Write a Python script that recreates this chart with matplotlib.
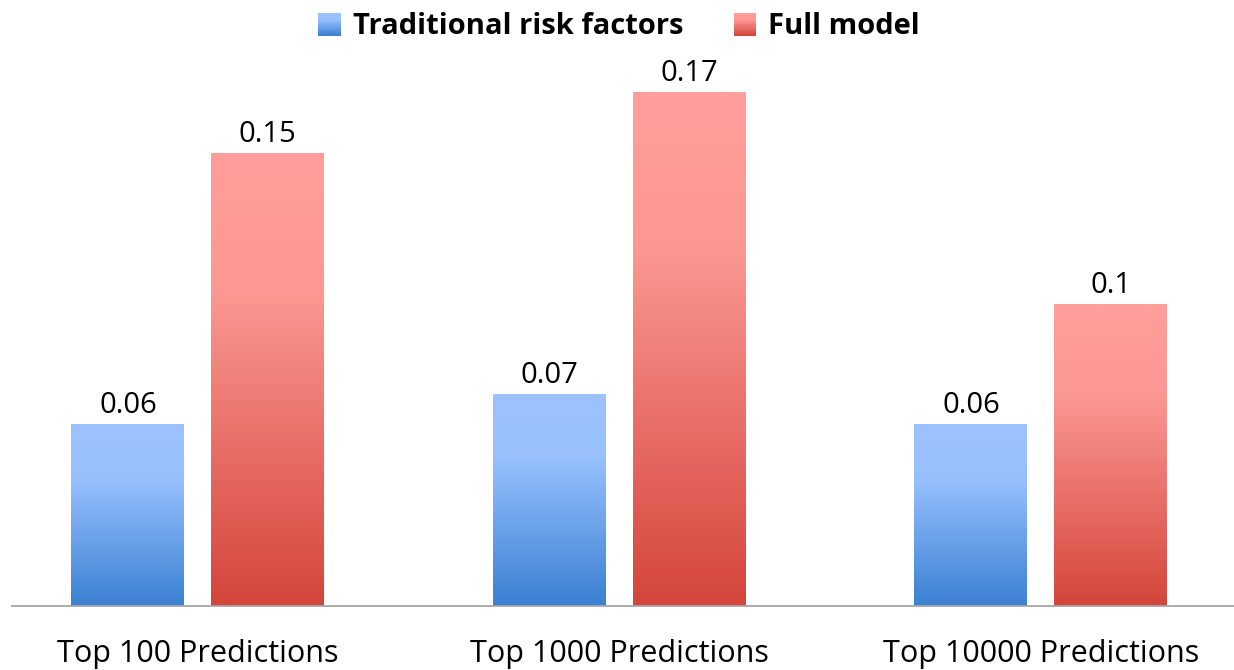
import numpy as np
import matplotlib
matplotlib.use("Agg")
import matplotlib.pyplot as plt
from matplotlib.colors import LinearSegmentedColormap
from matplotlib.patches import Rectangle
from matplotlib.legend_handler import HandlerBase

categories = ["Top 100 Predictions", "Top 1000 Predictions", "Top 10000 Predictions"]
series_names = ["Traditional risk factors", "Full model"]
traditional = [0.06, 0.07, 0.06]
full_model = [0.15, 0.17, 0.10]
labels_trad = ["0.06", "0.07", "0.06"]
labels_full = ["0.15", "0.17", "0.1"]

# gradient stops (top -> bottom) for each series
blue_stops = [(0.0, "#9DC3FF"), (0.3, "#97C0FD"), (1.0, "#3A80D2")]
red_stops = [(0.0, "#FF9E9B"), (0.3, "#FC9893"), (1.0, "#D4453B")]

def make_cmap(stops, name):
    return LinearSegmentedColormap.from_list(name, stops)

cmaps = [make_cmap(blue_stops, "blue_grad"), make_cmap(red_stops, "red_grad")]

plt.rcParams["font.family"] = ["Open Sans", "DejaVu Sans"]

fig = plt.figure(figsize=(12.34, 6.70), dpi=100)
ax = fig.add_axes([12 / 1234, 1 - 606 / 670, (1234 - 12) / 1234, (606 - 60) / 670])

x = np.arange(len(categories))
width = 0.268
offset = 0.166
grad = np.linspace(0, 1, 256).reshape(-1, 1)

for vals, labels, cmap, sign in [(traditional, labels_trad, cmaps[0], -1),
                                 (full_model, labels_full, cmaps[1], 1)]:
    bars = ax.bar(x + sign * offset, vals, width, color="none", edgecolor="none")
    for b, lab in zip(bars, labels):
        x0, w, h = b.get_x(), b.get_width(), b.get_height()
        ax.imshow(grad, cmap=cmap, aspect="auto", origin="upper",
                  extent=[x0, x0 + w, 0, h], zorder=2, interpolation="bilinear")
        ax.text(x0 + w / 2, h + 0.0015, lab, ha="center", va="bottom",
                fontsize=21, color="#000000")

ax.set_xlim(-0.441, 2.458)
ax.set_ylim(0, (606 - 60) / 3018)

for s in ["top", "right", "left"]:
    ax.spines[s].set_visible(False)
ax.spines["bottom"].set_color("#A6A6A6")
ax.spines["bottom"].set_linewidth(1.3)
ax.set_yticks([])
ax.set_xticks(x)
ax.set_xticklabels(categories, fontsize=22)
ax.tick_params(axis="x", length=0, pad=24)


class GradientHandler(HandlerBase):
    def __init__(self, cmap):
        super().__init__()
        self.cmap = cmap

    def create_artists(self, legend, orig_handle, xdescent, ydescent, width,
                       height, fontsize, trans):
        n = 20
        side = height * 1.1
        x0 = -xdescent + width - side
        y0 = -ydescent + (height - side) / 2
        arts = []
        for i in range(n):
            c = self.cmap(1 - (i + 0.5) / n)
            r = Rectangle((x0, y0 + side * i / n), side, side / n + 0.3,
                          facecolor=c, edgecolor="none", transform=trans)
            arts.append(r)
        return arts


h1 = Rectangle((0, 0), 1, 1)
h2 = Rectangle((0, 0), 1, 1)
leg = fig.legend([h1, h2], series_names, loc="center",
                 bbox_to_anchor=(0.5, 1 - 27 / 670), ncol=2, frameon=False,
                 prop={"weight": "bold", "size": 21}, handlelength=0.9,
                 handletextpad=0.4, columnspacing=1.6,
                 handler_map={h1: GradientHandler(cmaps[0]),
                              h2: GradientHandler(cmaps[1])})

fig.savefig("out.png", dpi=100)
